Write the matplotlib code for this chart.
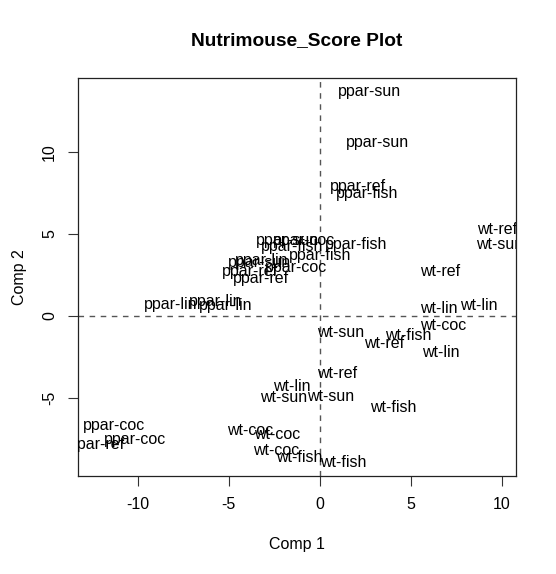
import matplotlib
matplotlib.use("Agg")
import matplotlib.pyplot as plt

plt.rcParams['font.family'] = ['Liberation Sans', 'DejaVu Sans']

title = "Nutrimouse_Score Plot"
xlabel = "Comp 1"
ylabel = "Comp 2"

labels = [
    "ppar-sun", "ppar-sun", "ppar-sun", "ppar-sun",
    "ppar-ref", "ppar-ref", "ppar-ref", "ppar-ref",
    "ppar-fish", "ppar-fish", "ppar-fish", "ppar-fish",
    "ppar-coc", "ppar-coc", "ppar-coc", "ppar-coc",
    "ppar-lin", "ppar-lin", "ppar-lin", "ppar-lin",
    "wt-ref", "wt-ref", "wt-ref", "wt-ref",
    "wt-sun", "wt-sun", "wt-sun", "wt-sun",
    "wt-lin", "wt-lin", "wt-lin", "wt-lin",
    "wt-coc", "wt-coc", "wt-coc", "wt-coc",
    "wt-fish", "wt-fish", "wt-fish", "wt-fish",
]
comp1 = [
    2.76, 3.20, -1.79, -3.29,
    2.10, -3.80, -3.25, -12.26,
    2.62, 2.00, 0.02, -1.50,
    -0.86, -1.30, -11.30, -10.15,
    -8.20, -5.69, -5.15, -3.16,
    9.74, 6.62, 3.54, 0.95,
    9.90, 1.14, -1.96, 0.62,
    6.56, 8.75, 6.66, -1.52,
    6.80, -3.83, -2.35, -2.40,
    4.85, 4.05, -1.13, 1.31,
]
comp2 = [
    13.66, 10.55, 4.63, 3.23,
    7.87, 2.68, 2.26, -7.85,
    7.44, 4.33, 3.66, 4.21,
    4.63, 2.93, -6.71, -7.56,
    0.67, 0.85, 0.61, 3.35,
    5.24, 2.68, -1.71, -3.54,
    4.33, -0.98, -5.00, -4.94,
    0.43, 0.61, -2.26, -4.33,
    -0.61, -7.00, -7.20, -8.23,
    -1.22, -5.60, -8.66, -8.96,
]
xticks = [-10, -5, 0, 5, 10]
yticks = [-5, 0, 5, 10]

fs = 11.5
fig = plt.figure(figsize=(5.56, 5.74), dpi=100)
ax = fig.add_axes([0.1408, 0.1713, 0.7867, 0.6923])
ax.set_xlim(-13.26, 10.77)
ax.set_ylim(-9.74, 14.49)

for lab, x, y in zip(labels, comp1, comp2):
    ax.text(x, y, lab, ha='center', va='center', fontsize=fs, color='black', clip_on=True)

ax.axvline(0, color='#555555', lw=1.0, ls=(0, (4, 4)))
ax.axhline(0, color='#555555', lw=1.0, ls=(0, (4, 4)))

ax.set_xticks(xticks)
ax.set_yticks(yticks)
ax.set_xticklabels([str(t) for t in xticks])
ax.set_yticklabels([str(t) for t in yticks], rotation=90, va='center')
ax.tick_params(axis='both', direction='out', length=7.2, width=0.8, labelsize=fs, color='#333333')
ax.tick_params(axis='x', pad=8)
ax.tick_params(axis='y', pad=8)
for s in ax.spines.values():
    s.set_linewidth(0.9)
    s.set_color('#222222')

ax.set_xlabel(xlabel, fontsize=fs, labelpad=18)
ax.set_ylabel(ylabel, fontsize=fs, labelpad=11)
fig.text(0.5342, 1 - 41 / 574, title, ha='center', va='center', fontsize=13.8, fontweight='bold')

fig.savefig("out.png", dpi=100)
